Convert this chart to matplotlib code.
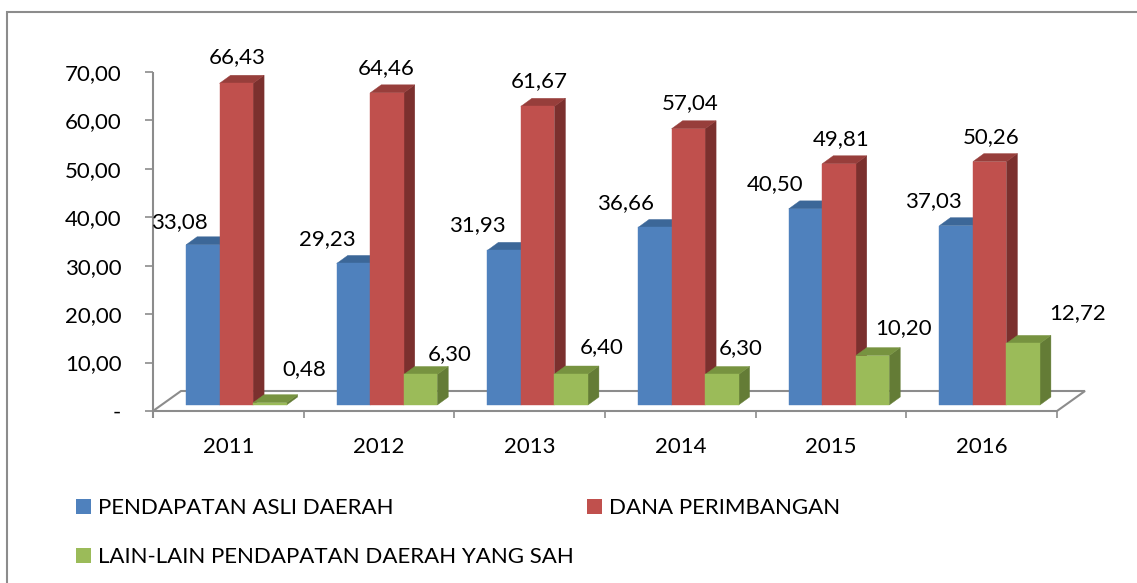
import matplotlib
matplotlib.use("Agg")
import matplotlib.pyplot as plt
from matplotlib.patches import Polygon, Rectangle

plt.rcParams['font.family'] = ['Lato', 'DejaVu Sans']

# ---------------- data ----------------
years = ["2011", "2012", "2013", "2014", "2015", "2016"]
pendapatan_asli = [33.08, 29.23, 31.93, 36.66, 40.50, 37.03]
dana_perimbangan = [66.43, 64.46, 61.67, 57.04, 49.81, 50.26]
lain_lain = [0.48, 6.30, 6.40, 6.30, 10.20, 12.72]
series_names = ["PENDAPATAN ASLI DAERAH", "DANA PERIMBANGAN",
                "LAIN-LAIN PENDAPATAN DAERAH YANG SAH"]
y_ticks = [0, 10, 20, 30, 40, 50, 60, 70]
y_tick_labels = ["-", "10,00", "20,00", "30,00", "40,00", "50,00", "60,00", "70,00"]

series_values = [pendapatan_asli, dana_perimbangan, lain_lain]

# ---------------- style / layout ----------------
W, H = 1137, 583
GRAY = '#8C8C8C'
face_colors = [  # front, top, side
    ('#4F81BD', '#3C6798', '#345885'),
    ('#C0504D', '#973E3B', '#7B302E'),
    ('#9BBB59', '#779340', '#647C36'),
]
# label offsets (px right, px up) relative to bar front-top centre
label_offsets = [
    [(-23, 25), (-26, 26), (-27, 27), (-29, 26), (-30, 27), (-23, 27)],
    [(1, 28), (-1, 27), (2, 27), (2, 28), (2, 27), (2, 27)],
    [(34, 36), (29, 22), (31, 29), (19, 28), (31, 30), (54, 32)],
]
FS = 16

fig = plt.figure(figsize=(W / 100, H / 100), dpi=100)
ax = fig.add_axes([153 / W, 1 - 411 / H, 904 / W, 339 / H])
ax.set_xlim(0, len(years))
ax.set_ylim(0, 70)
ax.patch.set_visible(False)
for s in ax.spines.values():
    s.set_visible(False)

ux = 904 / len(years)   # px per category
uy = 339 / 70           # px per value unit


def px_x(p):
    return p / ux


def px_y(p):
    return p / uy


# floor
fdx, fdy = px_x(28), px_y(20)
n = len(years)
floor = Polygon([(0, 0), (n, 0), (n + fdx, fdy), (fdx, fdy)], closed=True,
                facecolor='white', edgecolor=GRAY, linewidth=1.5,
                clip_on=False, zorder=1, joinstyle='miter')
ax.add_patch(floor)

# y axis line
ax.plot([0, 0], [-px_y(7), 70], color=GRAY, lw=1.5, clip_on=False,
        solid_capstyle='butt', zorder=1)

# bars
bw = 33.5 / ux
bfx, bfy = px_x(8), px_y(6)      # bar front face set-back
bdx, bdy = px_x(11), px_y(8)     # bar depth
ns = len(series_values)
for i in range(n):
    for j in range(ns):
        v = series_values[j][i]
        front, top, side = face_colors[j]
        x0 = i + 0.5 - ns * bw / 2 + j * bw + bfx
        y0 = bfy
        side_poly = Polygon([(x0 + bw, y0), (x0 + bw + bdx, y0 + bdy),
                             (x0 + bw + bdx, y0 + v + bdy), (x0 + bw, y0 + v)],
                            closed=True, facecolor=side, edgecolor=side,
                            lw=0.3, clip_on=False, zorder=2)
        top_poly = Polygon([(x0, y0 + v), (x0 + bw, y0 + v),
                            (x0 + bw + bdx, y0 + v + bdy), (x0 + bdx, y0 + v + bdy)],
                           closed=True, facecolor=top, edgecolor=top,
                           lw=0.3, clip_on=False, zorder=2)
        front_rect = Rectangle((x0, y0), bw, v, facecolor=front, edgecolor=front,
                               lw=0.3, clip_on=False, zorder=2)
        ax.add_patch(side_poly)
        ax.add_patch(top_poly)
        ax.add_patch(front_rect)
        ox, oy = label_offsets[j][i]
        ax.annotate(f"{v:.2f}".replace('.', ','),
                    xy=(x0 + bw / 2, y0 + v),
                    xytext=(ox * 0.72, (oy - 8) * 0.72),
                    textcoords='offset points', ha='center', va='baseline',
                    fontsize=FS, color='black', zorder=5, annotation_clip=False)

# y ticks
ax.set_yticks(y_ticks)
ax.set_yticklabels(y_tick_labels)
ax.tick_params(axis='y', direction='out', length=5.8, width=1.2, color=GRAY,
               pad=17, labelsize=FS, labelcolor='black')

# x ticks: boundaries (major) and category labels (minor)
ax.set_xticks(range(n + 1))
ax.set_xticklabels([])
ax.set_xticks([i + 0.5 for i in range(n)], minor=True)
ax.set_xticklabels(years, minor=True)
ax.tick_params(axis='x', which='major', direction='out', length=5, width=1.2,
               color=GRAY)
ax.tick_params(axis='x', which='minor', length=0, pad=18.5, labelsize=FS,
               labelcolor='black')

# legend (manual layout)
legend_pos = [(76, 506.5), (587, 506.5), (76, 555)]
for (lx, ly), name, cols in zip(legend_pos, series_names, face_colors):
    fig.add_artist(Rectangle((lx / W, 1 - (ly + 7.5) / H), 15 / W, 15 / H,
                             transform=fig.transFigure, facecolor=cols[0],
                             edgecolor='none'))
    fig.text((lx + 22) / W, 1 - (ly + 8) / H, name, fontsize=FS,
             ha='left', va='baseline', color='black')

# outer border (extends beyond the image on right/bottom)
fig.add_artist(Rectangle((7 / W, -0.05), 1.2, 1.05 - 12 / H,
                         transform=fig.transFigure, fill=False,
                         edgecolor=GRAY, linewidth=1.5))

fig.savefig('out.png', dpi=100)
